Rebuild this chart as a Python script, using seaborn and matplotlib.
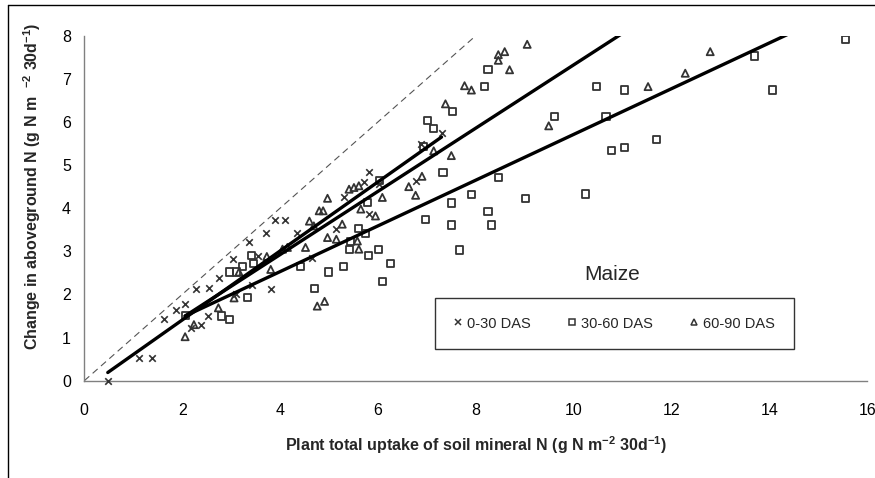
import matplotlib
matplotlib.use("Agg")
import matplotlib.pyplot as plt
from matplotlib.lines import Line2D
import seaborn as sns
import numpy as np
import pandas as pd

# ---------------- data ----------------
x_0_30 = [0.48, 1.12, 1.38, 1.62, 1.88, 2.06, 2.18, 2.38, 2.29, 2.54, 2.52, 2.76, 3.04, 3.11,
          3.43, 3.37, 3.71, 3.90, 4.10, 3.81, 3.55, 4.35, 4.66, 5.31, 5.14, 5.71, 5.82, 5.82,
          6.02, 6.78, 6.87, 7.30]
y_0_30 = [0.00, 0.52, 0.52, 1.42, 1.65, 1.79, 1.22, 1.30, 2.12, 2.16, 1.50, 2.39, 2.83, 2.00,
          2.23, 3.22, 3.42, 3.73, 3.73, 2.13, 2.90, 3.43, 2.85, 4.25, 3.51, 4.60, 4.83, 3.86,
          4.56, 4.64, 5.49, 5.75]

x_30_60 = [2.06, 2.81, 2.96, 2.96, 3.11, 3.23, 3.33, 3.42, 3.45, 4.42, 4.71, 4.99, 5.29, 5.44,
           5.61, 5.42, 5.75, 5.80, 5.78, 6.01, 6.04, 6.26, 6.09, 7.02, 7.14, 6.94, 7.53, 7.33,
           7.91, 7.50, 6.97, 7.50, 8.25, 8.32, 7.67, 8.46, 8.25, 8.18, 10.46, 11.04, 9.60, 10.66,
           10.77, 11.04, 11.69, 9.01, 10.25, 13.69, 14.07, 15.56]
y_30_60 = [1.52, 1.50, 1.42, 2.52, 2.52, 2.64, 1.92, 2.91, 2.72, 2.64, 2.13, 2.52, 2.64, 3.22,
           3.53, 3.05, 3.42, 2.91, 4.13, 3.05, 4.64, 2.71, 2.31, 6.03, 5.84, 5.43, 6.24, 4.83,
           4.31, 4.12, 3.73, 3.61, 3.92, 3.61, 3.03, 4.71, 7.21, 6.82, 6.82, 6.74, 6.12, 6.12,
           5.33, 5.41, 5.60, 4.23, 4.33, 7.53, 6.74, 7.91]

x_60_90 = [2.06, 2.24, 2.74, 3.16, 3.06, 3.73, 3.81, 4.05, 4.15, 4.52, 4.60, 4.69, 4.80, 4.88,
           4.97, 4.97, 5.15, 5.27, 5.41, 5.51, 5.61, 5.65, 5.61, 5.58, 4.76, 4.91, 5.95, 6.09,
           6.63, 6.77, 6.90, 7.14, 7.50, 7.38, 9.05, 8.46, 8.59, 8.46, 8.69, 7.77, 7.91, 11.52,
           12.28, 12.79, 9.49]
y_60_90 = [1.02, 1.30, 1.69, 2.52, 1.92, 2.88, 2.58, 3.05, 3.09, 3.09, 3.70, 3.59, 3.94, 3.94,
           4.23, 3.32, 3.28, 3.63, 4.44, 4.48, 4.52, 3.98, 3.05, 3.24, 1.73, 1.84, 3.82, 4.25,
           4.50, 4.30, 4.74, 5.33, 5.22, 6.42, 7.80, 7.56, 7.63, 7.43, 7.21, 6.84, 6.74, 6.82,
           7.13, 7.63, 5.91]

# linear trend lines (end points)
fit_x_0_30 = [0.48, 7.30]
fit_y_0_30 = [0.19, 5.65]
fit_x_30_60 = [2.06, 15.56]
fit_y_30_60 = [1.50, 8.66]
fit_x_60_90 = [2.06, 12.79]
fit_y_60_90 = [1.50, 9.37]

one_to_one = [0, 8]

series_labels = ["0-30 DAS", "30-60 DAS", "60-90 DAS"]
x_ticks = [0, 2, 4, 6, 8, 10, 12, 14, 16]
y_ticks = [0, 1, 2, 3, 4, 5, 6, 7, 8]

# ---------------- style ----------------
sns.set_style("white")
plt.rcParams["font.family"] = ["Liberation Sans", "DejaVu Sans"]
plt.rcParams["mathtext.fontset"] = "custom"
plt.rcParams["mathtext.rm"] = "Liberation Sans:bold"
plt.rcParams["mathtext.default"] = "rm"

W, H = 875, 478
fig = plt.figure(figsize=(W / 100, H / 100), dpi=100)
fig.patch.set_facecolor("white")

x0p, x1p = 84.3, 867.3
y0p, y1p = 380.7, 35.7
ax = fig.add_axes([x0p / W, 1 - y0p / H, (x1p - x0p) / W, (y0p - y1p) / H])
ax.set_facecolor("white")

mk = "#333333"
df1 = pd.DataFrame({"x": x_0_30, "y": y_0_30})
df2 = pd.DataFrame({"x": x_30_60, "y": y_30_60})
df3 = pd.DataFrame({"x": x_60_90, "y": y_60_90})

# 1:1 dashed line
sns.lineplot(x=one_to_one, y=one_to_one, ax=ax, color="#555555", lw=0.8,
             dashes=False, zorder=1).lines[-1].set_dashes((6, 4))

# trend lines
for fx, fy in [(fit_x_0_30, fit_y_0_30), (fit_x_30_60, fit_y_30_60), (fit_x_60_90, fit_y_60_90)]:
    sns.lineplot(x=fx, y=fy, ax=ax, color="black", lw=2.4, zorder=4)

# points
sns.scatterplot(data=df1, x="x", y="y", ax=ax, marker="x", s=22, color=mk,
                linewidth=1.2, zorder=3, clip_on=False)
sns.scatterplot(data=df2, x="x", y="y", ax=ax, marker="s", s=26, facecolors="none",
                edgecolor=mk, linewidth=1.3, zorder=3)
sns.scatterplot(data=df3, x="x", y="y", ax=ax, marker="^", s=26, facecolors="none",
                edgecolor=mk, linewidth=1.3, zorder=3)

ax.set_xlim(0, 16)
ax.set_ylim(0, 8)
ax.set_xticks(x_ticks)
ax.set_yticks(y_ticks)
ax.set_xticklabels([str(v) for v in x_ticks])
ax.set_yticklabels([str(v) for v in y_ticks])

for side in ["top", "right"]:
    ax.spines[side].set_visible(False)
for side in ["left", "bottom"]:
    ax.spines[side].set_color("#808080")
    ax.spines[side].set_linewidth(1.0)
    ax.spines[side].set_zorder(2)
ax.tick_params(axis="both", which="major", direction="out", length=3.5, width=1.0,
               color="#808080", labelsize=11.5, labelcolor="black")
ax.tick_params(axis="x", pad=12.5)
ax.tick_params(axis="y", pad=6)

ax.set_xlabel(r"Plant total uptake of soil mineral N (g N m$^{-2}$ 30d$^{-1}$)",
              fontsize=11.5, fontweight="bold")
ax.xaxis.label.set_va("center")
ax.xaxis.set_label_coords(0.5, (y0p - 445) / (y0p - y1p))
ax.set_ylabel(r"Change in aboveground N (g N m  $^{-2}$ 30d$^{-1}$)",
              fontsize=11.5, fontweight="bold")
ax.yaxis.label.set_va("center")
ax.yaxis.set_label_coords((32.6 - x0p) / (x1p - x0p), (y0p - 186) / (y0p - y1p))

# panel label
fig.text(612 / W, 1 - 275 / H, "Maize", fontsize=15, ha="center", va="center")

# legend
handles = [
    Line2D([], [], ls="none", marker="x", ms=4.5, mew=1.1, color=mk),
    Line2D([], [], ls="none", marker="s", ms=4.5, mew=1.1, mfc="none", mec=mk),
    Line2D([], [], ls="none", marker="^", ms=4.5, mew=1.1, mfc="none", mec=mk),
]
lx0, lx1, ly0, ly1 = 434, 795, 296, 351
leg = fig.legend(handles, series_labels, ncol=3, loc="center",
                 bbox_to_anchor=((lx0 + lx1) / 2 / W, 1 - (ly0 + ly1) / 2 / H),
                 frameon=True, fancybox=False, edgecolor="black", fontsize=10.5,
                 handlelength=0.5, handletextpad=0.35, columnspacing=2.6,
                 borderpad=1.3, borderaxespad=0)
leg.get_frame().set_linewidth(1.0)

# outer chart border (extends past the image on the right and bottom)
fig.add_artist(Line2D([8 / W, 8 / W], [0, 1 - 5 / H], color="black", lw=1.0))
fig.add_artist(Line2D([8 / W, 1], [1 - 5 / H, 1 - 5 / H], color="black", lw=1.0))

fig.savefig("out.png", dpi=100, facecolor="white")
